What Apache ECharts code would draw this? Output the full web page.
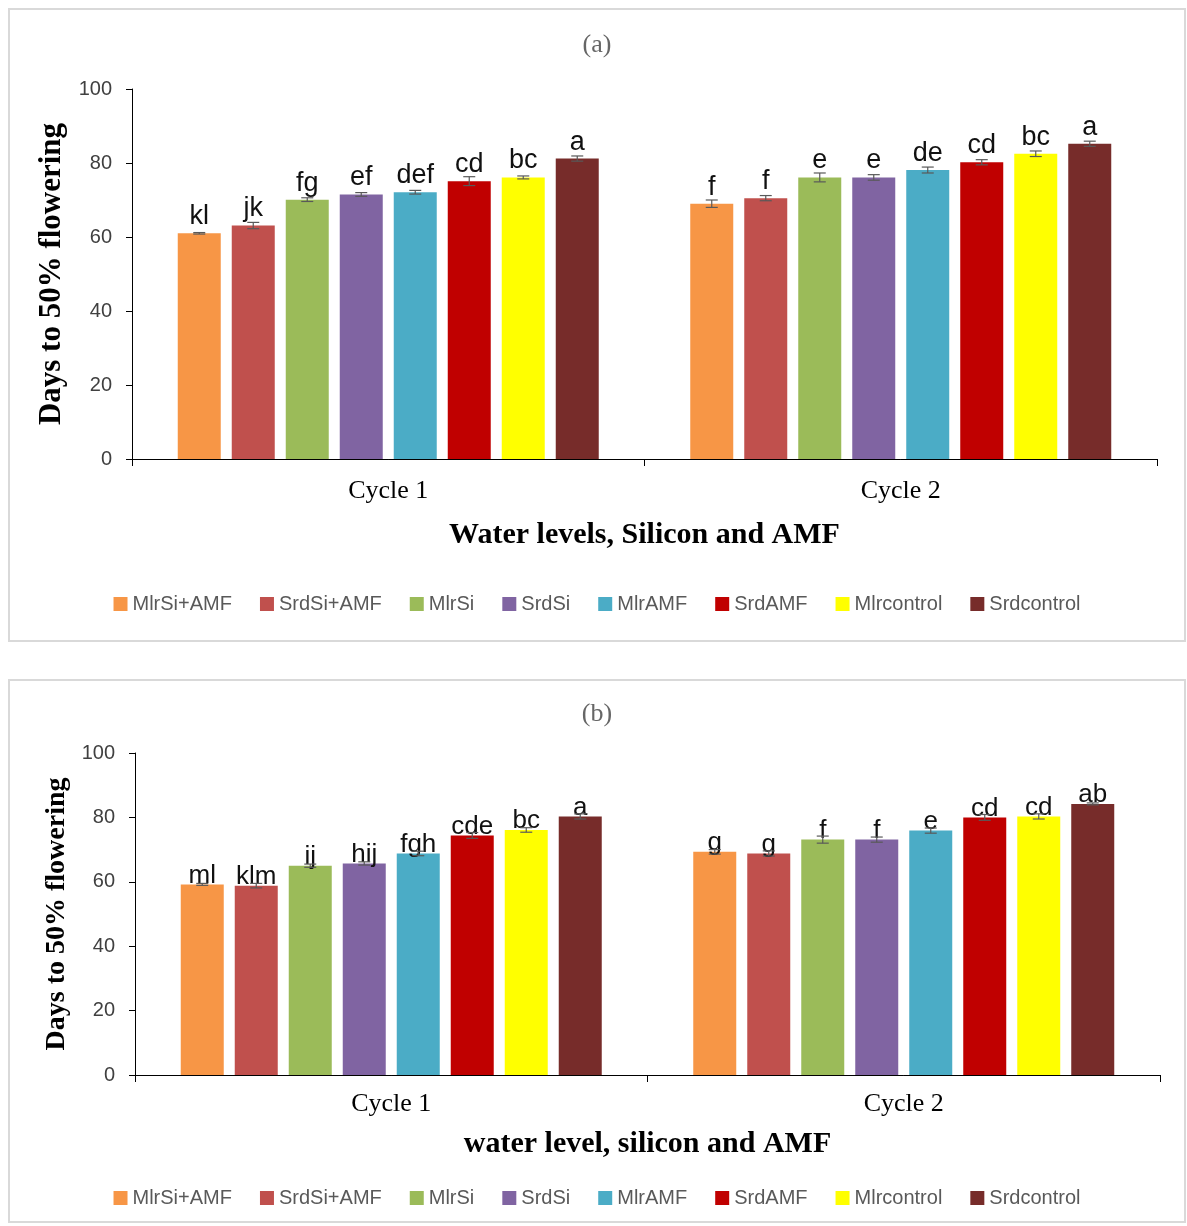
<!DOCTYPE html>
<html>
<head>
<meta charset="utf-8">
<script src="https://cdn.jsdelivr.net/npm/echarts@6/dist/echarts.min.js"></script>
<style>
  html, body { margin: 0; padding: 0; background: #fff; }
  body { width: 1187px; height: 1226px; position: relative; overflow: hidden; }
  .panel { position: absolute; box-sizing: border-box; border: 2px solid #d9d9d9; background: #fff; }
  #pa { left: 8px; top: 8px; width: 1178px; height: 634px; }
  #pb { left: 8px; top: 679px; width: 1178px; height: 544px; }
  .chart { width: 100%; height: 100%; }
</style>
</head>
<body>
<div class="panel" id="pa"><div class="chart" id="ca"></div></div>
<div class="panel" id="pb"><div class="chart" id="cb"></div></div>
<script>
// ---- data ----
var categories = ['Cycle 1', 'Cycle 2'];
var seriesNames = ['MlrSi+AMF', 'SrdSi+AMF', 'MlrSi', 'SrdSi', 'MlrAMF', 'SrdAMF', 'Mlrcontrol', 'Srdcontrol'];
var yTicks = [0, 20, 40, 60, 80, 100];

var aCycle1 = [61.0, 63.1, 70.1, 71.5, 72.1, 75.1, 76.1, 81.2];
var aCycle2 = [69.0, 70.5, 76.1, 76.1, 78.1, 80.2, 82.5, 85.2];
var aErr1 = [0.2, 0.85, 0.5, 0.5, 0.5, 1.2, 0.4, 0.7];
var aErr2 = [1.0, 0.7, 1.2, 0.75, 0.8, 0.7, 0.75, 0.7];
var aLetters1 = ['kl', 'jk', 'fg', 'ef', 'def', 'cd', 'bc', 'a'];
var aLetters2 = ['f', 'f', 'e', 'e', 'de', 'cd', 'bc', 'a'];

var bCycle1 = [59.2, 58.8, 65.0, 65.7, 68.8, 74.4, 76.1, 80.3];
var bCycle2 = [69.3, 68.8, 73.1, 73.1, 75.9, 80.0, 80.3, 84.2];
var bErr1 = [0.3, 0.7, 0.5, 0.5, 0.7, 0.9, 0.7, 0.8];
var bErr2 = [0.7, 0.8, 1.1, 0.8, 0.8, 0.9, 0.8, 0.3];
var bLetters1 = ['ml', 'klm', 'ij', 'hij', 'fgh', 'cde', 'bc', 'a'];
var bLetters2 = ['g', 'g', 'f', 'f', 'e', 'cd', 'cd', 'ab'];

// ---- styles ----
var colors = ['#F79646', '#C0504D', '#9BBB59', '#8064A2', '#4BACC6', '#C00000', '#FFFF00', '#772C2A'];
var SERIF = '"Liberation Serif", "Times New Roman", serif';
var SANS = '"Liberation Sans", Arial, sans-serif';
var BAR_W = 43, BAR_GAP = 11;

function makeOption(cfg) {
  var series = [];
  seriesNames.forEach(function (name, i) {
    var letters = [cfg.letters1[i], cfg.letters2[i]];
    series.push({
      name: name,
      type: 'bar',
      data: [cfg.c1[i], cfg.c2[i]],
      barWidth: BAR_W,
      barGap: (BAR_GAP / BAR_W * 100).toFixed(2) + '%',
      itemStyle: { color: colors[i] },
      label: {
        show: true,
        position: 'top',
        distance: cfg.labelDist,
        formatter: function (p) { return letters[p.dataIndex]; },
        fontFamily: SANS,
        fontSize: cfg.labelSize,
        color: '#111'
      },
      z: 2
    });
  });
  seriesNames.forEach(function (name, i) {
    var offset = (i - (seriesNames.length - 1) / 2) * (BAR_W + BAR_GAP);
    series.push({
      type: 'custom',
      name: name + '_err',
      data: [[0, cfg.c1[i], cfg.e1[i]], [1, cfg.c2[i], cfg.e2[i]]],
      z: 3,
      silent: true,
      renderItem: function (params, api) {
        var x = api.value(0), v = api.value(1), e = api.value(2);
        var hi = api.coord([x, v + e]);
        var lo = api.coord([x, v - e]);
        var cx = hi[0] + offset;
        var hw = 6;
        var st = { stroke: '#595959', lineWidth: 1.2 };
        return {
          type: 'group',
          children: [
            { type: 'line', shape: { x1: cx, y1: hi[1], x2: cx, y2: lo[1] }, style: st },
            { type: 'line', shape: { x1: cx - hw, y1: hi[1], x2: cx + hw, y2: hi[1] }, style: st },
            { type: 'line', shape: { x1: cx - hw, y1: lo[1], x2: cx + hw, y2: lo[1] }, style: st }
          ]
        };
      }
    });
  });

  return {
    animation: false,
    backgroundColor: '#fff',
    title: {
      text: cfg.title,
      left: 'center',
      top: cfg.titleTop,
      textStyle: { fontFamily: SERIF, fontSize: 26, fontWeight: 'normal', color: '#666' }
    },
    legend: {
      data: seriesNames,
      left: 'center',
      top: cfg.legendTop,
      itemWidth: 14,
      itemHeight: 14,
      itemGap: 28,
      icon: 'rect',
      textStyle: { fontFamily: SANS, fontSize: 20, color: '#595959' }
    },
    grid: cfg.grid,
    xAxis: {
      type: 'category',
      data: categories,
      name: cfg.xName,
      nameLocation: 'middle',
      nameGap: cfg.xNameGap,
      nameTextStyle: { fontFamily: SERIF, fontSize: 30, fontWeight: 'bold', color: '#000' },
      axisLine: { lineStyle: { color: '#000', width: 1 } },
      axisTick: { show: true, alignWithLabel: false, length: 7, lineStyle: { color: '#000' } },
      axisLabel: { fontFamily: SERIF, fontSize: 26, color: '#000', margin: cfg.xLabelMargin }
    },
    yAxis: {
      type: 'value',
      min: yTicks[0],
      max: yTicks[yTicks.length - 1],
      interval: yTicks[1] - yTicks[0],
      name: 'Days to 50% flowering',
      nameLocation: 'middle',
      nameGap: cfg.yNameGap,
      nameRotate: 90,
      nameTextStyle: { fontFamily: SERIF, fontSize: cfg.yNameSize, fontWeight: 'bold', color: '#000' },
      axisLine: { show: true, lineStyle: { color: '#000', width: 1 } },
      axisTick: { show: true, length: 6, lineStyle: { color: '#000' } },
      splitLine: { show: false },
      axisLabel: { fontFamily: SANS, fontSize: 20, color: '#404040', margin: 20 }
    },
    series: series
  };
}

var chartA = echarts.init(document.getElementById('ca'));
chartA.setOption(makeOption({
  title: '(a)', titleTop: 17, legendTop: 579,
  grid: { left: 122, top: 79, width: 1025, height: 370 },
  c1: aCycle1, c2: aCycle2, e1: aErr1, e2: aErr2, letters1: aLetters1, letters2: aLetters2,
  labelDist: 3, labelSize: 27,
  xName: 'Water levels, Silicon and AMF', xNameGap: 61, xLabelMargin: 19,
  yNameGap: 62, yNameSize: 31
}));

var chartB = echarts.init(document.getElementById('cb'));
chartB.setOption(makeOption({
  title: '(b)', titleTop: 15, legendTop: 502,
  grid: { left: 125, top: 72, width: 1025, height: 322 },
  c1: bCycle1, c2: bCycle2, e1: bErr1, e2: bErr2, letters1: bLetters1, letters2: bLetters2,
  labelDist: -4, labelSize: 26,
  xName: 'water level, silicon and AMF', xNameGap: 54, xLabelMargin: 16,
  yNameGap: 63, yNameSize: 28
}));
</script>
</body>
</html>
